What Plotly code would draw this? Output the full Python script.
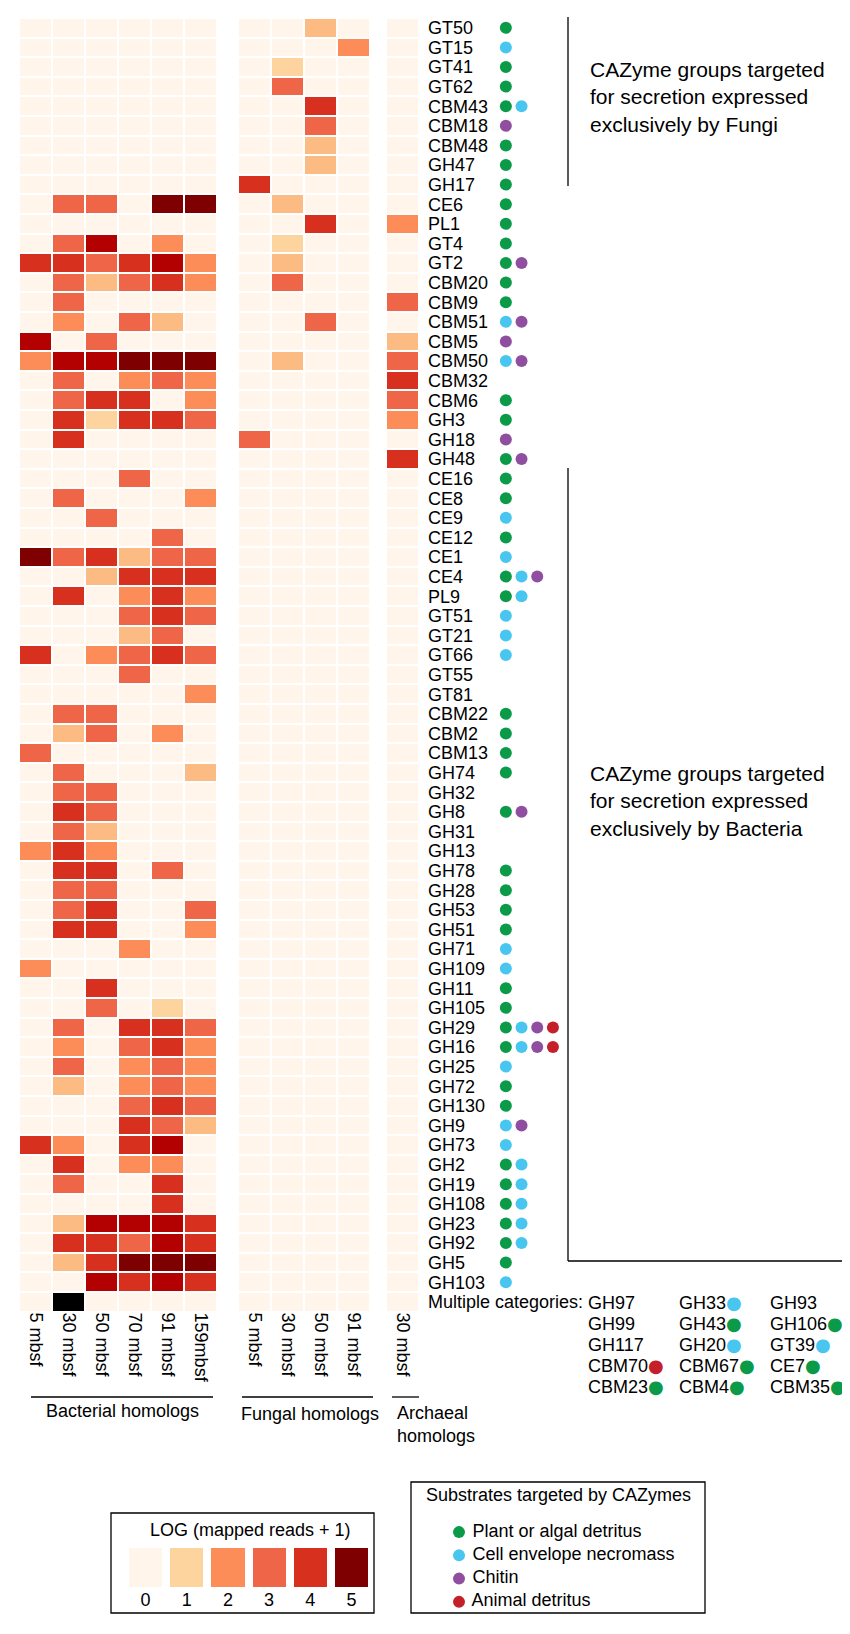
import plotly.graph_objects as go

W, H = 850, 1634
FONT = "Liberation Sans, Arial, Helvetica, sans-serif"

# CAZyme families, top to bottom
cazymes = [
    "GT50", "GT15", "GT41", "GT62", "CBM43", "CBM18", "CBM48", "GH47", "GH17",
    "CE6", "PL1", "GT4", "GT2", "CBM20", "CBM9", "CBM51", "CBM5", "CBM50",
    "CBM32", "CBM6", "GH3", "GH18", "GH48", "CE16", "CE8", "CE9", "CE12", "CE1",
    "CE4", "PL9", "GT51", "GT21", "GT66", "GT55", "GT81", "CBM22", "CBM2",
    "CBM13", "GH74", "GH32", "GH8", "GH31", "GH13", "GH78", "GH28", "GH53",
    "GH51", "GH71", "GH109", "GH11", "GH105", "GH29", "GH16", "GH25", "GH72",
    "GH130", "GH9", "GH73", "GH2", "GH19", "GH108", "GH23", "GH92", "GH5",
    "GH103", "Multiple categories:",
]

bact_depths = ["5 mbsf", "30 mbsf", "50 mbsf", "70 mbsf", "91 mbsf", "159mbsf"]
fung_depths = ["5 mbsf", "30 mbsf", "50 mbsf", "91 mbsf"]
arch_depths = ["30 mbsf"]

# LOG(mapped reads + 1); 6 = off-scale cell drawn black
bacterial = [
    [0, 0, 0, 0, 0, 0], [0, 0, 0, 0, 0, 0], [0, 0, 0, 0, 0, 0], [0, 0, 0, 0, 0, 0],
    [0, 0, 0, 0, 0, 0], [0, 0, 0, 0, 0, 0], [0, 0, 0, 0, 0, 0], [0, 0, 0, 0, 0, 0],
    [0, 0, 0, 0, 0, 0],
    [0, 3, 3, 0, 5, 5],        # CE6
    [0, 0, 0, 0, 0, 0],        # PL1
    [0, 3, 4.5, 0, 2, 0],      # GT4
    [4, 4, 3, 4, 4.5, 2],      # GT2
    [0, 3, 1.5, 3, 4, 2],      # CBM20
    [0, 3, 0, 0, 0, 0],        # CBM9
    [0, 2, 0, 3, 1.5, 0],      # CBM51
    [4.5, 0, 3, 0, 0, 0],      # CBM5
    [2, 4.5, 4.5, 5, 5, 5],    # CBM50
    [0, 3, 0, 2, 3, 2],        # CBM32
    [0, 3, 4, 4, 0, 2],        # CBM6
    [0, 4, 1, 4, 4, 3],        # GH3
    [0, 4, 0, 0, 0, 0],        # GH18
    [0, 0, 0, 0, 0, 0],        # GH48
    [0, 0, 0, 3, 0, 0],        # CE16
    [0, 3, 0, 0, 0, 2],        # CE8
    [0, 0, 3, 0, 0, 0],        # CE9
    [0, 0, 0, 0, 3, 0],        # CE12
    [5, 3, 4, 1.5, 3, 3],      # CE1
    [0, 0, 1.5, 4, 4, 4],      # CE4
    [0, 4, 0, 2, 4, 2],        # PL9
    [0, 0, 0, 3, 4, 3],        # GT51
    [0, 0, 0, 1.5, 3, 0],      # GT21
    [4, 0, 2, 3, 4, 3],        # GT66
    [0, 0, 0, 3, 0, 0],        # GT55
    [0, 0, 0, 0, 0, 2],        # GT81
    [0, 3, 3, 0, 0, 0],        # CBM22
    [0, 1.5, 3, 0, 2, 0],      # CBM2
    [3, 0, 0, 0, 0, 0],        # CBM13
    [0, 3, 0, 0, 0, 1.5],      # GH74
    [0, 3, 3, 0, 0, 0],        # GH32
    [0, 4, 3, 0, 0, 0],        # GH8
    [0, 3, 1.5, 0, 0, 0],      # GH31
    [2, 4, 2, 0, 0, 0],        # GH13
    [0, 4, 4, 0, 3, 0],        # GH78
    [0, 3, 3, 0, 0, 0],        # GH28
    [0, 3, 4, 0, 0, 3],        # GH53
    [0, 4, 4, 0, 0, 2],        # GH51
    [0, 0, 0, 2, 0, 0],        # GH71
    [2, 0, 0, 0, 0, 0],        # GH109
    [0, 0, 4, 0, 0, 0],        # GH11
    [0, 0, 3, 0, 1, 0],        # GH105
    [0, 3, 0, 4, 4, 3],        # GH29
    [0, 2, 0, 3, 4, 2],        # GH16
    [0, 3, 0, 2, 3, 2],        # GH25
    [0, 1.5, 0, 2, 3, 2],      # GH72
    [0, 0, 0, 3, 4, 3],        # GH130
    [0, 0, 0, 4, 3, 1.5],      # GH9
    [4, 2, 0, 4, 4.5, 0],      # GH73
    [0, 4, 0, 2, 2, 0],        # GH2
    [0, 3, 0, 0, 4, 0],        # GH19
    [0, 0, 0, 0, 4, 0],        # GH108
    [0, 1.5, 4.5, 4.5, 4.5, 4],  # GH23
    [0, 4, 4, 3, 4.5, 4],      # GH92
    [0, 1.5, 4, 5, 5, 5],      # GH5
    [0, 0, 4.5, 4, 4.5, 4],    # GH103
    [0, 6, 0, 0, 0, 0],        # Multiple categories
]

fungal = [
    [0, 0, 1.5, 0], [0, 0, 0, 2], [0, 1, 0, 0], [0, 3, 0, 0], [0, 0, 4, 0],
    [0, 0, 3, 0], [0, 0, 1.5, 0], [0, 0, 1.5, 0], [4, 0, 0, 0], [0, 1.5, 0, 0],
    [0, 0, 4, 0], [0, 1, 0, 0], [0, 1.5, 0, 0], [0, 3, 0, 0], [0, 0, 0, 0],
    [0, 0, 3, 0], [0, 0, 0, 0], [0, 1.5, 0, 0], [0, 0, 0, 0], [0, 0, 0, 0],
    [0, 0, 0, 0], [3, 0, 0, 0],
] + [[0, 0, 0, 0]] * 44

archaeal = [
    0, 0, 0, 0, 0, 0, 0, 0, 0, 0, 2, 0, 0, 0, 3, 0, 1.5, 3, 4, 3, 2, 0, 4,
] + [0] * 43

# substrate codes per family: p plant/algal, c cell envelope, h chitin, a animal
substrates = [
    "p", "c", "p", "p", "pc", "h", "p", "p", "p", "p", "p", "p", "ph", "p", "p",
    "ch", "h", "ch", "", "p", "p", "h", "ph", "p", "p", "c", "p", "c", "pch",
    "pc", "c", "c", "c", "", "", "p", "p", "p", "p", "", "ph", "", "", "p", "p",
    "p", "p", "c", "c", "p", "p", "pcha", "pcha", "c", "p", "p", "ch", "c", "pc",
    "pc", "pc", "pc", "pc", "p", "c", "",
]

sub_codes = ["p", "c", "h", "a"]
sub_names = ["Plant or algal detritus", "Cell envelope necromass", "Chitin", "Animal detritus"]
sub_colors = ["#0a9a48", "#48c6f0", "#904ea0", "#c4202a"]

# families in the "Multiple categories" row, in reading order
multi_names = [
    ["GH97", "GH33", "GH93"],
    ["GH99", "GH43", "GH106"],
    ["GH117", "GH20", "GT39"],
    ["CBM70", "CBM67", "CE7"],
    ["CBM23", "CBM4", "CBM35"],
]
multi_subs = [
    ["", "c", ""],
    ["", "p", "p"],
    ["", "c", "c"],
    ["a", "p", "p"],
    ["p", "p", "p"],
]

legend_levels = [0, 1, 2, 3, 4, 5]

# colour scale (value -> colour), 6 is the off-scale black cell
scale_vals = [0, 1, 1.5, 2, 3, 4, 4.5, 5, 6]
scale_cols = ["#fff5eb", "#fdd49e", "#fdbb84", "#fc8d59", "#ef6548",
              "#d7301f", "#b30000", "#7f0000", "#000000"]
colorscale = [[v / 6, c] for v, c in zip(scale_vals, scale_cols)]


def px(x):
    return x / W


def py(y):
    return 1 - y / H


fig = go.Figure()

hm = dict(colorscale=colorscale, zmin=0, zmax=6, showscale=False,
          xgap=2, ygap=2, hoverinfo="skip")
fig.add_trace(go.Heatmap(z=bacterial, x=bact_depths, y=cazymes, xaxis="x", yaxis="y", **hm))
fig.add_trace(go.Heatmap(z=fungal, x=fung_depths, y=cazymes, xaxis="x2", yaxis="y", **hm))
fig.add_trace(go.Heatmap(z=[[v] for v in archaeal], x=arch_depths, y=cazymes,
                         xaxis="x3", yaxis="y", **hm))

# substrate dots, packed left in each row
for code, color in zip(sub_codes, sub_colors):
    xs, ys = [], []
    for name, subs in zip(cazymes, substrates):
        if code in subs:
            xs.append(subs.index(code))
            ys.append(name)
    fig.add_trace(go.Scatter(x=xs, y=ys, xaxis="x4", yaxis="y", mode="markers",
                             marker=dict(size=12, color=color), hoverinfo="skip"))

# colour legend swatches
fig.add_trace(go.Heatmap(z=[legend_levels], x=[str(v) for v in legend_levels], y=["s"],
                         xaxis="x5", yaxis="y5", colorscale=colorscale, zmin=0, zmax=6,
                         showscale=False, xgap=8, hoverinfo="skip"))

# substrate legend
fig.add_trace(go.Scatter(x=[0] * len(sub_names), y=list(range(len(sub_names))),
                         xaxis="x6", yaxis="y6", mode="markers+text",
                         marker=dict(size=12, color=sub_colors),
                         text=[" " + s for s in sub_names], textposition="middle right",
                         textfont=dict(size=18, color="black"),
                         cliponaxis=False, hoverinfo="skip"))

xcat = dict(type="category", showgrid=False, zeroline=False, showline=False, ticks="",
            tickangle=90, tickfont=dict(size=18), anchor="y")
hidden = dict(visible=False, showgrid=False, zeroline=False)
n = len(cazymes)

fig.update_layout(
    width=W, height=H,
    margin=dict(l=0, r=0, t=0, b=0),
    paper_bgcolor="white", plot_bgcolor="white",
    font=dict(family=FONT, size=18, color="black"),
    showlegend=False,
    xaxis=dict(domain=[px(11), px(209)], **xcat),
    xaxis2=dict(domain=[px(230), px(362)], **xcat),
    xaxis3=dict(domain=[px(378), px(411)], **xcat),
    xaxis4=dict(domain=[px(490), px(560)], range=[-0.5, 3.96], anchor="y", **hidden),
    yaxis=dict(domain=[py(1303.6), py(10)], type="category", categoryorder="array",
               categoryarray=cazymes, range=[n - 0.5, -0.5], anchor="x3", side="right",
               tickmode="linear", tick0=0, dtick=1,
               showgrid=False, zeroline=False, showline=False, ticks="",
               tickfont=dict(size=18), ticklabelstandoff=8),
    xaxis5=dict(domain=[px(117), px(364)], type="category", anchor="y5", showgrid=False,
                zeroline=False, ticks="", tickfont=dict(size=18)),
    yaxis5=dict(domain=[py(1579), py(1540)], anchor="x5", **hidden),
    xaxis6=dict(domain=[px(445), px(457)], range=[-1, 1], anchor="y6", **hidden),
    yaxis6=dict(domain=[py(1605.5), py(1512.5)], range=[3.5, -0.5], anchor="x6", **hidden),
)

line = dict(color="black", width=1.3)
shapes = [
    # group brackets under the heatmaps
    dict(x0=px(23), x1=px(205), y0=py(1389), y1=py(1389)),
    dict(x0=px(234), x1=px(365), y0=py(1389), y1=py(1389)),
    dict(x0=px(384), x1=px(411), y0=py(1389), y1=py(1389)),
    # fungi bracket
    dict(x0=px(560), x1=px(560), y0=py(9), y1=py(178)),
    # bacteria bracket
    dict(x0=px(560), x1=px(560), y0=py(460), y1=py(1253)),
    dict(x0=px(560), x1=px(845), y0=py(1253), y1=py(1253)),
    dict(x0=px(845), x1=px(845), y0=py(1253), y1=py(1385)),
]
for s in shapes:
    fig.add_shape(type="line", xref="paper", yref="paper", line=line, **s)

for x0, x1, y0, y1 in [(103, 366, 1505, 1605), (403, 697, 1474, 1605)]:
    fig.add_shape(type="rect", xref="paper", yref="paper", x0=px(x0), x1=px(x1),
                  y0=py(y0), y1=py(y1), line=dict(color="black", width=1.3))


def note(text, x, y, xanchor="left", size=18):
    fig.add_annotation(text=text, x=px(x), y=py(y), xref="paper", yref="paper",
                       xanchor=xanchor, yanchor="middle", align=xanchor,
                       showarrow=False, font=dict(size=size))


note("CAZyme groups targeted<br>for secretion expressed<br>exclusively by Fungi", 580, 89, size=21)
note("CAZyme groups targeted<br>for secretion expressed<br>exclusively by Bacteria", 580, 793, size=21)
note("Bacterial homologs", 115, 1403, xanchor="center")
note("Fungal homologs", 231, 1406)
note("Archaeal<br>homologs", 387, 1416)
note("LOG (mapped reads + 1)", 242, 1522, xanchor="center")
note("Substrates targeted by CAZymes", 550, 1487, xanchor="center")

# entries of the "Multiple categories" row; every entry carries the dot glyph
# (transparent when the family has no substrate) so all boxes have equal height
col_x = [578, 669, 760]
for i, (names, subs) in enumerate(zip(multi_names, multi_subs)):
    for j, (name, sub) in enumerate(zip(names, subs)):
        c = sub_colors[sub_codes.index(sub)] if sub else "rgba(0,0,0,0)"
        txt = f'{name}<span style="color:{c};font-family:DejaVu Sans">●</span>'
        note(txt, col_x[j], 1294 + 21 * i)

fig.write_html("out.html")
